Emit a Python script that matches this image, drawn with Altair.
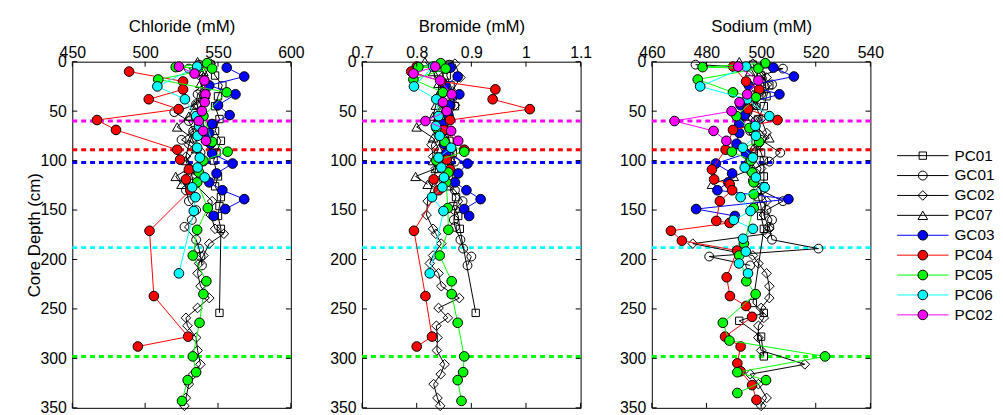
import altair as alt
import pandas as pd

FONT = "Liberation Sans"

SERIES = ["PC01", "GC01", "GC02", "PC07", "GC03", "PC04", "PC05", "PC06", "PC02"]
LINE_COLORS = ["#000000", "#000000", "#000000", "#000000", "#0000ff", "#ff0000", "#00ff00", "#00ffff", "#ff00ff"]
MARKER_SHAPES = ["square", "circle", "diamond", "triangle-up", "circle", "circle", "circle", "circle", "circle"]
MARKER_FILLS = [None, None, None, None, "#0000ff", "#ff0000", "#00ff00", "#00ffff", "#ff00ff"]
MARKER_SIZES = [55, 80, 95, 95, 95, 95, 95, 95, 95]

DEPTH_TICKS = [0, 50, 100, 150, 200, 250, 300, 350]
CL_TICKS = [450, 500, 550, 600]
BR_TICKS = [0.7, 0.8, 0.9, 1.0, 1.1]
NA_TICKS = [460, 480, 500, 520, 540]

HLINE_DEPTHS = [60, 89, 102, 188, 298]
HLINE_COLORS = ["#ff00ff", "#ff0000", "#0000ff", "#00ffff", "#00ff00"]

# ---- PC01 (open squares)
PC01_DEPTH = [3, 14, 24, 35, 45, 58, 70, 80, 92, 100, 116, 126, 137, 146, 156, 169, 244, 254, 262, 278, 298]
PC01_CL = [545, 548, 553, 550, 548, 551, 548, 552, 549, 547, 550, 548, 552, 551, 550, 552, None, 551, None, None, None]
PC01_BR = [0.86, 0.855, 0.862, 0.866, 0.87, 0.86, 0.855, 0.86, 0.866, 0.862, 0.866, 0.86, 0.872, 0.867, 0.876, 0.879, None, 0.908, None, None, None]
PC01_NA = [497, 500, 503, 502, 501, 499, 497, 498, 500, 501, 501, 501, 499, 500, 500, 501, 497, 501, 492, 500, 501]

# ---- GC01 (open circles)
GC01_DEPTH = [3, 7, 14, 23, 33, 43, 51, 60, 70, 79, 92, 101, 110, 120, 130, 141, 150, 160, 167, 180, 189, 197, 206]
GC01_CL = [537, 530, 538, 542, 536, 535, 520, 530, 533, 525, 538, 540, 535, 528, 528, 530, 535, 532, 527, 535, 537, 538, 539]
GC01_BR = [0.86, 0.855, 0.84, 0.85, 0.845, 0.85, 0.845, 0.84, 0.84, 0.85, 0.86, 0.87, 0.86, 0.85, 0.87, 0.884, 0.87, 0.868, 0.87, 0.88, 0.885, 0.90, 0.893]
GC01_NA = [476, 508, 500, 504, 500, 497, 495, 498, 496, 500, 507, 503, 496, 497, 500, 508, 502, 504, 503, 504, 521, 481, 496]

# ---- GC02 (open diamonds)
GC02_DEPTH = [2, 16, 30, 44, 58, 72, 84, 96, 108, 122, 141, 155, 169, 174, 184, 196, 204, 214, 227, 239, 249, 259, 267, 279, 292, 306, 316, 326, 340, 348]
GC02_CL = [545, 540, 538, 536, 535, 533, 530, 528, 531, 533, 546, 545, 548, 554, 544, 540, 537, 536, 538, 544, 536, 528, 529, 535, 536, 538, 533, 530, 528, 527]
GC02_BR = [0.87, 0.88, 0.865, 0.87, 0.85, 0.84, 0.827, 0.83, 0.835, 0.83, 0.82, 0.818, 0.83, 0.835, 0.845, 0.83, 0.824, 0.84, 0.845, 0.878, 0.84, 0.857, 0.836, 0.838, 0.837, 0.851, 0.844, 0.831, 0.838, 0.843]
GC02_NA = [497, 502, 500, 498, 500, 502, 499, 497, 500, 498, 502, 501, 503, 502, 475, 497, 499, 502, 503, 503, 500, 501, 499, 499, 500, 516, 496, 499, 502, 500]

# ---- PC07 (open triangles)
PC07_DEPTH = [0, 10, 22, 33, 44, 55, 66, 77, 88, 100, 108, 116, 124]
PC07_CL = [536, 540, 538, 541, 534, 530, 522, 532, 535, 528, 530, 521, 525]
PC07_BR = [0.815, 0.83, 0.84, 0.84, 0.835, 0.83, 0.80, 0.83, 0.84, 0.83, 0.835, 0.798, 0.82]
PC07_NA = [492, 496, 500, 497, 498, 494, 498, 503, 497, 495, 497, 490, 482]

# ---- GC03 (blue)
GC03_DEPTH = [6, 15, 24, 33, 44, 54, 63, 72, 83, 93, 103, 113, 122, 130, 139, 149, 156]
GC03_CL = [556, 568, 544, 562, 550, 558, 546, 544, 545, 546, 560, 549, 544, 553, 568, 555, 547]
GC03_BR = [0.862, 0.875, 0.852, 0.878, 0.86, 0.858, 0.848, 0.845, 0.85, 0.854, 0.893, 0.876, 0.87, 0.891, 0.917, 0.887, 0.896]
GC03_NA = [504.5, 512, 495.5, 506.7, 492.5, 494, 492, 492, 491, 494.5, 483.4, 489.4, 488, 484, 510, 476.2, 490.4]

# ---- PC04 (red)
PC04_DEPTH = [5, 10, 20, 28, 38, 48, 59, 69, 89, 99, 109, 119, 124, 130, 141, 161, 163, 171, 181, 191, 218, 237, 247, 258, 278, 288, 305, 313, 327, 342]
PC04_CL = [None, 489, 526, 526, 502.5, 523, 467, 480, 522, 524, 530, 528, None, 531, None, None, None, 503, None, None, None, 506, None, None, 529.5, 495, None, None, None, None]
PC04_BR = [0.80, 0.79, 0.845, 0.944, 0.939, 1.007, 0.861, 0.85, 0.887, 0.855, 0.861, 0.831, None, 0.84, None, None, None, 0.795, None, None, None, 0.816, None, None, 0.828, 0.80, None, None, None, None]
PC04_NA = [489.8, None, 494.5, 499.3, None, 495.2, 506, 489.7, 487, None, 482, 482.8, 488.5, 489.4, 484.9, 483.6, 488.5, 467, 471, 491.2, 487.4, 488.6, 494.5, 496.7, 486.8, 492.5, 491.3, 492.5, 496.7, 498.3]

# ---- PC05 (green)
PC05_DEPTH = [1.5, 5.5, 7, 18, 31, 36, 55, 67, 81, 91, 100, 112, 122, 134, 148, 170, 184, 196, 222, 235, 264, 282, 298, 314, 322, 335, 343]
PC05_CL = [542.5, 521, 546, 509, 556, None, 540, None, 546, 556.6, 540, 537, 535.7, None, 543, 535.7, None, 532.7, 542, 540, 537.3, None, 532.7, 535, 529.2, None, 525.3]
PC05_BR = [0.844, 0.803, 0.853, 0.794, 0.848, None, 0.84, 0.836, 0.851, 0.887, 0.836, 0.858, 0.854, None, 0.857, 0.858, None, 0.842, 0.864, 0.864, 0.875, None, 0.887, 0.885, 0.875, None, 0.882]
PC05_NA = [501.5, 478.6, 499, 476.8, 489.7, 498.1, 491, 495.7, 499.3, 489.3, 496.3, 496.7, 497.3, 497.3, 497.3, None, 493.7, 492, 494.6, 498, 486, 488.4, 523.4, 491.3, 501.8, 491.3, None]

# ---- PC06 (cyan)
PC06_DEPTH = [5, 25, 38, 55, 65, 75, 87, 97, 107, 117, 127, 137, 151, 160, 169, 179, 192, 204, 214]
PC06_CL = [535.7, 508.4, 527.3, 535, 537, 536, 535.7, 537.5, 536, 540.9, 532.3, 534.5, 533.4, None, None, None, None, None, 523.2]
PC06_BR = [0.83, 0.795, 0.836, 0.84, 0.835, 0.842, 0.863, 0.84, 0.845, 0.85, 0.847, 0.828, 0.849, None, None, None, None, None, 0.824]
PC06_NA = [494.5, 477.7, 494.9, 503, 497.9, 498.1, 493.3, 497, 494, 498.1, 501.3, 492.5, 496.1, 490, 497, 493.4, 494.4, 491.9, 495.2]

# ---- PC02 (magenta)
PC02_DEPTH = [5, 12, 19, 33, 41, 50, 60, 70, 80]
PC02_CL = [523.2, 533.9, 540.7, 541.4, 540.9, 539, 536.8, 539.8, 541.8]
PC02_BR = [0.834, 0.794, 0.843, 0.864, 0.848, 0.855, 0.816, 0.863, 0.876]
PC02_NA = [491.6, None, 499, 494.9, 492.1, 489.2, 468.3, 482.6, 487.3]

SERIES_DATA = {
    "PC01": (PC01_DEPTH, PC01_CL, PC01_BR, PC01_NA),
    "GC01": (GC01_DEPTH, GC01_CL, GC01_BR, GC01_NA),
    "GC02": (GC02_DEPTH, GC02_CL, GC02_BR, GC02_NA),
    "PC07": (PC07_DEPTH, PC07_CL, PC07_BR, PC07_NA),
    "GC03": (GC03_DEPTH, GC03_CL, GC03_BR, GC03_NA),
    "PC04": (PC04_DEPTH, PC04_CL, PC04_BR, PC04_NA),
    "PC05": (PC05_DEPTH, PC05_CL, PC05_BR, PC05_NA),
    "PC06": (PC06_DEPTH, PC06_CL, PC06_BR, PC06_NA),
    "PC02": (PC02_DEPTH, PC02_CL, PC02_BR, PC02_NA),
}

rows = []
for name in SERIES:
    dep, cl, br, na = SERIES_DATA[name]
    for i in range(len(dep)):
        rows.append({"series": name, "depth": dep[i], "cl": cl[i], "br": br[i], "na": na[i]})
df = pd.DataFrame(rows)
hdf = pd.DataFrame({"depth": HLINE_DEPTHS, "color": HLINE_COLORS})
leg_df = pd.DataFrame({"series": SERIES})

W = 221
H = 350
AXIS_STYLE = dict(labelFont=FONT, titleFont=FONT, labelFontSize=16, titleFontSize=17,
                  titleFontWeight="normal", labelColor="black", titleColor="black",
                  ticks=False, domain=False, grid=False, labelOverlap=False)


def make_panel(field, domain, ticks, title, fmt, ytitle, with_legend=False):
    xenc = alt.X(
        f"{field}:Q",
        scale=alt.Scale(domain=domain, nice=False, zero=False),
        axis=alt.Axis(orient="top", values=ticks, format=fmt, title=title,
                      labelFlush=False, labelPadding=1, titlePadding=10, **AXIS_STYLE),
    )
    yaxis_kwargs = dict(values=DEPTH_TICKS, labelPadding=6, **AXIS_STYLE)
    if ytitle:
        yaxis_kwargs.update(title=ytitle, titlePadding=-4)
    else:
        yaxis_kwargs.update(title=None)
    yenc = alt.Y("depth:Q", scale=alt.Scale(domain=[0, 350], reverse=True, nice=False, zero=False),
                 axis=alt.Axis(**yaxis_kwargs))

    layers = []
    layers.append(
        alt.Chart(hdf).mark_rule(strokeWidth=3, strokeDash=[5, 4]).encode(
            y=yenc, color=alt.Color("color:N", scale=None))
    )
    for i, s in enumerate(SERIES):
        base = alt.Chart(df).transform_filter(alt.datum.series == s).transform_filter(
            f"isValid(datum.{field}) && isFinite(datum.{field})")
        layers.append(base.mark_line(color=LINE_COLORS[i], strokeWidth=1).encode(
            x=xenc, y=yenc, order="depth:Q"))
        if MARKER_FILLS[i] is None:
            pm = base.mark_point(shape=MARKER_SHAPES[i], size=MARKER_SIZES[i], filled=False,
                                 color="black", strokeWidth=1, opacity=1)
        else:
            pm = base.mark_point(shape=MARKER_SHAPES[i], size=MARKER_SIZES[i], filled=True,
                                 fill=MARKER_FILLS[i], stroke="black", strokeWidth=1, opacity=1)
        layers.append(pm.encode(x=xenc, y=yenc))

    tdf = pd.DataFrame({field: ticks})
    ddf = pd.DataFrame({"depth": DEPTH_TICKS})
    layers.append(alt.Chart(tdf).mark_rule(color="black", strokeWidth=1).encode(
        x=xenc, y=alt.value(0), y2=alt.value(5)))
    layers.append(alt.Chart(tdf).mark_rule(color="black", strokeWidth=1).encode(
        x=xenc, y=alt.value(H - 5), y2=alt.value(H)))
    layers.append(alt.Chart(ddf).mark_rule(color="black", strokeWidth=1).encode(
        y=yenc, x=alt.value(0), x2=alt.value(5)))
    layers.append(alt.Chart(ddf).mark_rule(color="black", strokeWidth=1).encode(
        y=yenc, x=alt.value(W - 5), x2=alt.value(W)))

    main = alt.layer(*layers)
    if not with_legend:
        return main.properties(width=W, height=H)

    ly = alt.Y("series:N", scale=alt.Scale(type="point", domain=SERIES, range=[95, 256], padding=0),
               axis=None)
    leg_layers = []
    for i, s in enumerate(SERIES):
        lb = alt.Chart(leg_df).transform_filter(alt.datum.series == s)
        leg_layers.append(lb.mark_rule(color=LINE_COLORS[i], strokeWidth=1).encode(
            y=ly, x=alt.value(W + 27), x2=alt.value(W + 79)))
        if MARKER_FILLS[i] is None:
            lp = lb.mark_point(shape=MARKER_SHAPES[i], size=MARKER_SIZES[i], filled=False,
                               color="black", strokeWidth=1, opacity=1)
        else:
            lp = lb.mark_point(shape=MARKER_SHAPES[i], size=MARKER_SIZES[i], filled=True,
                               fill=MARKER_FILLS[i], stroke="black", strokeWidth=1, opacity=1)
        leg_layers.append(lp.encode(y=ly, x=alt.value(W + 53)))
    leg_layers.append(alt.Chart(leg_df).mark_text(align="left", baseline="middle", fontSize=15.5,
                                                  font=FONT, color="black").encode(
        y=ly, x=alt.value(W + 85), text="series:N"))
    legend = alt.layer(*leg_layers)
    return alt.layer(main, legend).resolve_scale(y="independent").properties(width=W, height=H)


p1 = make_panel("cl", [450, 600], CL_TICKS, "Chloride (mM)", "d", "Core Depth (cm)")
p2 = make_panel("br", [0.7, 1.1], BR_TICKS, "Bromide (mM)", "~g", None)
p3 = make_panel("na", [460, 540], NA_TICKS, "Sodium (mM)", "d", None, with_legend=True)

chart = alt.hconcat(p1, p2, p3, spacing=72, bounds="flush").properties(
    padding={"left": 17, "top": 6, "right": 0, "bottom": 0},
    background="white"
).configure_view(
    stroke="black", strokeWidth=1
)

chart.save("out.html", embed_options={"renderer": "svg", "actions": False})
